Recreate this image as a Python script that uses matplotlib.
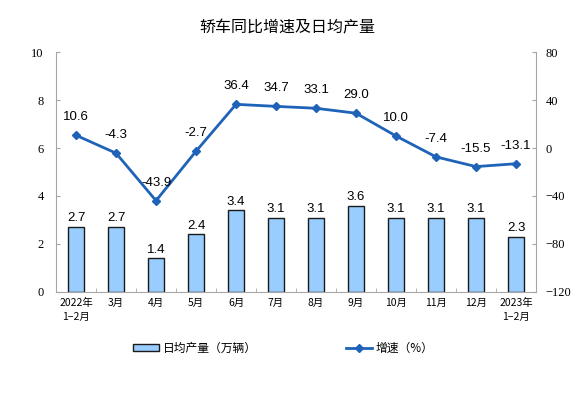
import numpy as np
import matplotlib.pyplot as plt

plt.rcParams['font.family'] = ['Noto Sans CJK SC', 'DejaVu Sans']

months = ['2022年\n1−2月', '3月', '4月', '5月', '6月', '7月', '8月', '9月',
          '10月', '11月', '12月', '2023年\n1−2月']
daily_output = [2.7, 2.7, 1.4, 2.4, 3.4, 3.1, 3.1, 3.6, 3.1, 3.1, 3.1, 2.3]
growth = [10.6, -4.3, -43.9, -2.7, 36.4, 34.7, 33.1, 29.0, 10.0, -7.4, -15.5, -13.1]

bar_color = '#99ccff'
line_color = '#1f63b8'
spine_color = '#a6a6a6'

fig = plt.figure(figsize=(5.74, 3.97), dpi=100)
ax = fig.add_axes([0.0976, 0.2645, 0.8362, 0.6045])
ax2 = ax.twinx()

x = np.arange(len(months))
ax.bar(x, daily_output, width=0.4, color=bar_color, edgecolor='#1a1a1a',
       linewidth=1.0, label='日均产量（万辆）', zorder=2)
for xi, v in zip(x, daily_output):
    ax.text(xi, v + 0.12, f'{v:.1f}', ha='center', va='bottom',
            fontsize=9.5, family='Liberation Sans')

ax.set_xlim(-0.5, len(months) - 0.5)
ax.set_ylim(0, 10)
ax.set_yticks(np.arange(0, 11, 2))
ax.set_xticks(x)
ax.set_xticklabels(months, fontsize=7.5, linespacing=1.6)
ax.set_xticks(np.arange(-0.5, len(months), 1), minor=True)
ax.tick_params(axis='x', which='major', length=0, pad=4)
ax.tick_params(axis='x', which='minor', length=3, direction='in', color=spine_color)
ax.tick_params(axis='y', length=3, direction='in', color=spine_color, pad=9,
               labelsize=9, labelfontfamily='Liberation Serif')

ax2.plot(x, growth, color=line_color, linewidth=2, marker='D', markersize=4,
         label='增速（%）', zorder=3)
for xi, v in zip(x, growth):
    ax2.text(xi, v + 10, f'{v:.1f}', ha='center', va='bottom',
             fontsize=9.5, family='Liberation Sans')
ax2.set_ylim(-120, 80)
ax2.set_yticks(np.arange(-120, 81, 40))
ax2.tick_params(axis='y', length=3, direction='in', color=spine_color, pad=7,
                labelsize=9, labelfontfamily='Liberation Serif')

for a in (ax, ax2):
    a.spines['top'].set_visible(False)
    for s in ('left', 'right', 'bottom'):
        a.spines[s].set_color(spine_color)
        a.spines[s].set_linewidth(0.8)
ax.spines['right'].set_visible(False)
ax2.spines['left'].set_visible(False)
ax2.spines['bottom'].set_visible(False)

fig.text(0.5, 0.929, '轿车同比增速及日均产量', ha='center', va='center', fontsize=11.5)

h1, l1 = ax.get_legend_handles_labels()
h2, l2 = ax2.get_legend_handles_labels()
fig.legend(h1 + h2, l1 + l2, loc='center', bbox_to_anchor=(0.494, 0.123),
           ncol=2, frameon=False, fontsize=8.5, columnspacing=7.6,
           handlelength=2.2, handleheight=0.5, handletextpad=0.3)

fig.savefig('out.png', dpi=100)
